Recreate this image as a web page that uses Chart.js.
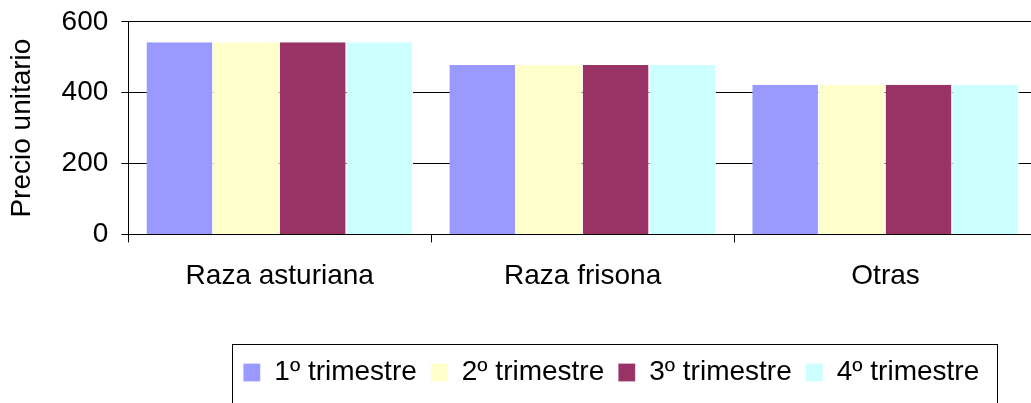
<!DOCTYPE html>
<html>
<head>
<meta charset="utf-8">
<script src="https://cdn.jsdelivr.net/npm/chart.js@4"></script>
<style>
  html, body { margin: 0; padding: 0; background: #fff; overflow: hidden; }
  #wrap { width: 1040px; height: 403px; position: relative; }
</style>
</head>
<body>
<div id="wrap"><canvas id="precios"></canvas></div>
<script>
// Datos
const categories = ["Raza asturiana", "Raza frisona", "Otras"];
const trimestre1 = [542, 478, 422];
const trimestre2 = [542, 478, 422];
const trimestre3 = [542, 478, 422];
const trimestre4 = [542, 478, 422];
const seriesNames = ["1º trimestre", "2º trimestre", "3º trimestre", "4º trimestre"];
const seriesColors = ["#9999FF", "#FFFFCC", "#993366", "#CCFFFF"];
const yMax = 600, yStep = 200;

const FONT = "'Liberation Sans', Arial, sans-serif";

// moves the legend to where Excel had it and draws its frame
const legendFrame = {
    id: "legendFrame",
    afterLayout(chart) {
        const lg = chart.legend;
        const dx = chart.chartArea.left + 101 - lg.left;
        const dy = chart.chartArea.bottom + 110 - lg.top;
        lg.left += dx; lg.right += dx;
        lg.top += dy; lg.bottom += dy;
    },
    afterDraw(chart) {
        const lg = chart.legend;
        const boxes = lg.legendHitBoxes;
        if (!boxes || !boxes.length) return;
        const last = boxes[boxes.length - 1];
        const x0 = Math.round(boxes[0].left - 11) + 0.5;
        const x1 = Math.round(last.left + last.width + 18) + 0.5;
        const y0 = Math.round(lg.top) + 0.5;
        const ctx = chart.ctx;
        ctx.save();
        ctx.strokeStyle = "#000";
        ctx.lineWidth = 1;
        ctx.strokeRect(x0, y0, x1 - x0, 80);
        ctx.restore();
    }
};

const datasets = [trimestre1, trimestre2, trimestre3, trimestre4].map(function(values, i) {
    return {
        label: seriesNames[i],
        data: values,
        backgroundColor: seriesColors[i],
        borderColor: "#fff",
        borderWidth: {top: 0, right: 1, bottom: 0, left: 0},
        borderSkipped: false,
        barPercentage: 1,
        categoryPercentage: 0.88
    };
});

new Chart("precios", {
    type: "bar",
    data: { labels: categories, datasets: datasets },
    plugins: [legendFrame],
    options: {
        responsive: true,
        maintainAspectRatio: false,
        animation: false,
        devicePixelRatio: 1,
        layout: { padding: { top: 0, right: 3, bottom: 41, left: 0 } },
        plugins: {
            tooltip: { enabled: false },
            legend: {
                position: "bottom",
                align: "start",
                labels: {
                    boxWidth: 17,
                    boxHeight: 18,
                    padding: 14,
                    color: "#000",
                    font: { family: FONT, size: 28 }
                }
            }
        },
        scales: {
            x: {
                offset: true,
                grid: { offset: true, drawOnChartArea: false, tickLength: 8, color: "#000" },
                border: { color: "#000" },
                ticks: { color: "#000", padding: 17, font: { family: FONT, size: 28 } }
            },
            y: {
                min: 0,
                max: yMax,
                // the "600" label sits closer to the top edge than Chart.js leaves by default
                afterFit: function(scale) { scale.paddingTop -= 8; },
                ticks: { stepSize: yStep, color: "#000", padding: 13, font: { family: FONT, size: 28 } },
                grid: { color: "#000", tickLength: 7 },
                border: { color: "#000" },
                title: {
                    display: true,
                    text: "Precio unitario",
                    color: "#000",
                    font: { family: FONT, size: 28 },
                    padding: { top: 5, bottom: 10 }
                }
            }
        }
    }
});
</script>
</body>
</html>
